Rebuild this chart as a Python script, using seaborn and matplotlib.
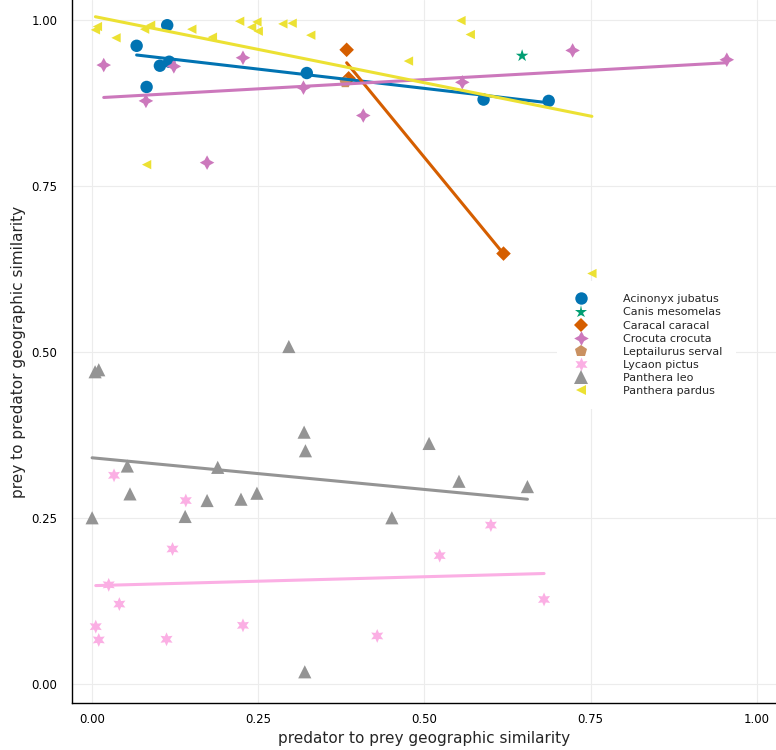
import seaborn as sns
import matplotlib
matplotlib.use("Agg")
import matplotlib.pyplot as plt
import pandas as pd

# especies y sus datos
species = ["Acinonyx jubatus", "Canis mesomelas", "Caracal caracal", "Crocuta crocuta",
           "Leptailurus serval", "Lycaon pictus", "Panthera leo", "Panthera pardus"]

acinonyx_x = [0.067, 0.113, 0.102, 0.116, 0.082, 0.323, 0.589, 0.687]
acinonyx_y = [0.961, 0.992, 0.931, 0.937, 0.899, 0.920, 0.880, 0.878]

canis_x = [0.647]
canis_y = [0.946]

caracal_x = [0.383, 0.386, 0.619]
caracal_y = [0.955, 0.912, 0.648]

crocuta_x = [0.0175, 0.081, 0.123, 0.227, 0.173, 0.318, 0.408, 0.557, 0.723, 0.955]
crocuta_y = [0.932, 0.878, 0.930, 0.943, 0.785, 0.898, 0.856, 0.906, 0.954, 0.940]

leptailurus_x = [0.381]
leptailurus_y = [0.906]

lycaon_x = [0.033, 0.141, 0.121, 0.025, 0.041, 0.0055, 0.010, 0.112, 0.227, 0.429, 0.600, 0.523, 0.680]
lycaon_y = [0.314, 0.276, 0.203, 0.149, 0.120, 0.086, 0.066, 0.067, 0.088, 0.072, 0.239, 0.193, 0.127]

leo_x = [0.0045, 0.010, 0.296, 0.319, 0.321, 0.053, 0.189, 0.057, 0.173, 0.224, 0.248, 0.140,
         0.0, 0.451, 0.320, 0.507, 0.552, 0.655]
leo_y = [0.470, 0.473, 0.508, 0.379, 0.351, 0.328, 0.326, 0.286, 0.276, 0.278, 0.287, 0.252,
         0.250, 0.250, 0.018, 0.362, 0.305, 0.297]

pardus_x = [0.005, 0.008, 0.036, 0.079, 0.088, 0.150, 0.181, 0.222, 0.240, 0.248, 0.250, 0.287,
            0.301, 0.329, 0.476, 0.082, 0.555, 0.569, 0.752]
pardus_y = [0.985, 0.990, 0.973, 0.986, 0.992, 0.986, 0.974, 0.998, 0.989, 0.997, 0.983, 0.994,
            0.995, 0.977, 0.938, 0.782, 0.999, 0.978, 0.618]

all_x = [acinonyx_x, canis_x, caracal_x, crocuta_x, leptailurus_x, lycaon_x, leo_x, pardus_x]
all_y = [acinonyx_y, canis_y, caracal_y, crocuta_y, leptailurus_y, lycaon_y, leo_y, pardus_y]

ticks = [0.0, 0.25, 0.5, 0.75, 1.0]
tick_labels = ["0.00", "0.25", "0.50", "0.75", "1.00"]

rows = []
for sp, xs, ys in zip(species, all_x, all_y):
    for a, b in zip(xs, ys):
        rows.append({"species": sp, "pred_prey": a, "prey_pred": b})
df = pd.DataFrame(rows)

# colores de la paleta colorblind (sin el naranja)
cb = sns.color_palette("colorblind")
colors = dict(zip(species, [cb[0], cb[2], cb[3], cb[4], cb[5], cb[6], cb[7], cb[8]]))
markers = dict(zip(species, ["o", "*", "D", (4, 1, 0), "p", (6, 1, 0), "^", "<"]))
sizes = dict(zip(species, [80, 90, 55, 110, 75, 100, 90, 45]))

sns.set_theme(style="white")
plt.rcParams["font.family"] = ["DejaVu Sans"]

fig = plt.figure(figsize=(7.76, 7.5), dpi=100)
ax = fig.add_axes([71.5 / 776, 47 / 750, 1 - 71.5 / 776, 703 / 750])

sns.scatterplot(data=df, x="pred_prey", y="prey_pred", hue="species", style="species",
                size="species", palette=colors, markers=markers, sizes=sizes,
                linewidth=0, ax=ax, zorder=3)

# lineas de regresion para especies con mas de un punto
for sp in species:
    sub = df[df["species"] == sp]
    if len(sub) < 2:
        continue
    sns.regplot(data=sub, x="pred_prey", y="prey_pred", scatter=False, ci=None,
                truncate=True, color=colors[sp], line_kws={"lw": 2.2, "zorder": 4}, ax=ax)

ax.set_xlim(-0.031, 1.029)
ax.set_ylim(-0.029, 1.030)
ax.set_xticks(ticks)
ax.set_xticklabels(tick_labels)
ax.set_yticks(ticks)
ax.set_yticklabels(tick_labels)
ax.tick_params(axis="both", direction="in", length=4, width=1, color="black",
               labelsize=8.5, labelcolor="black")
ax.tick_params(axis="y", pad=10)
ax.tick_params(axis="x", pad=7)
ax.grid(True, color="#ececec", lw=0.8)
for s in ["top", "right"]:
    ax.spines[s].set_visible(False)
for s in ["left", "bottom"]:
    ax.spines[s].set_color("black")
    ax.spines[s].set_linewidth(1)

ax.set_xlabel("predator to prey geographic similarity", fontsize=11)
ax.set_ylabel("prey to predator geographic similarity", fontsize=11)

sns.move_legend(ax, "center left", bbox_to_anchor=(0.681, 0.509), title=None,
                frameon=True, facecolor="white", edgecolor="none", framealpha=1,
                fontsize=8, labelspacing=0.28, handletextpad=2.8, borderpad=1.2)

fig.savefig("out.png", dpi=100)
